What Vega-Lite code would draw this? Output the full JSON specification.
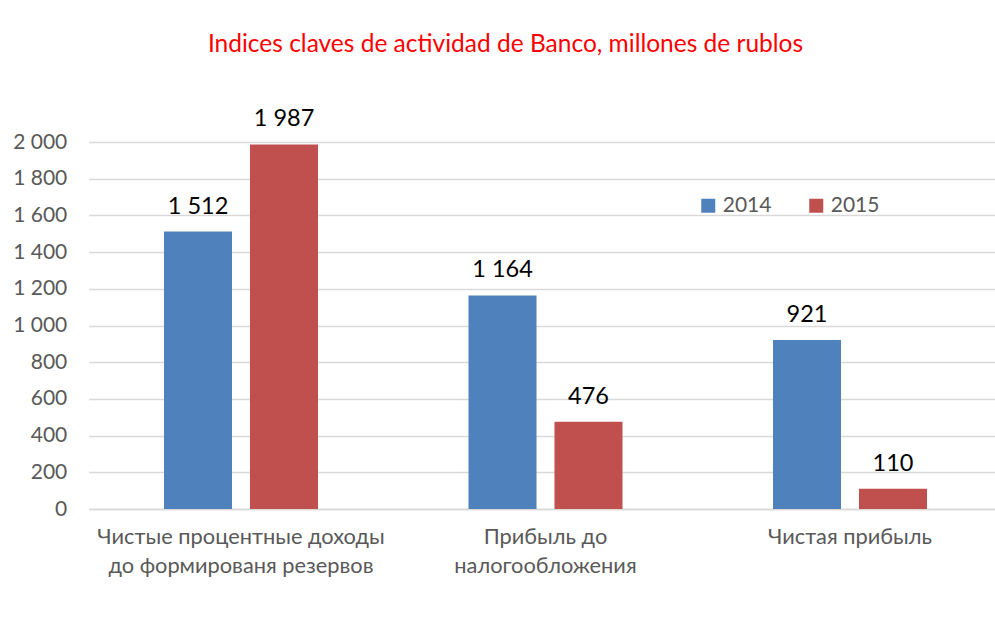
{
  "$schema": "https://vega.github.io/schema/vega-lite/v6.json",
  "width": 913.5,
  "height": 367,
  "autosize": {"type": "none"},
  "padding": {"left": 88.75, "top": 142, "right": 0, "bottom": 130},
  "background": "white",
  "title": {
    "text": "Indices claves de actividad de Banco, millones de rublos",
    "color": "#FF0000",
    "font": "Lato",
    "fontSize": 24.5,
    "fontWeight": "normal",
    "anchor": "middle",
    "dx": -40,
    "offset": 50
  },
  "data": {
    "values": [
      {"cat": "Чистые процентные доходы|до формированя резервов", "year": "2014", "value": 1512},
      {"cat": "Чистые процентные доходы|до формированя резервов", "year": "2015", "value": 1987},
      {"cat": "Прибыль до|налогообложения", "year": "2014", "value": 1164},
      {"cat": "Прибыль до|налогообложения", "year": "2015", "value": 476},
      {"cat": "Чистая прибыль", "year": "2014", "value": 921},
      {"cat": "Чистая прибыль", "year": "2015", "value": 110}
    ]
  },
  "encoding": {
    "x": {
      "field": "cat",
      "type": "nominal",
      "sort": null,
      "scale": {"paddingInner": 0, "paddingOuter": 0},
      "axis": {
        "title": null,
        "labelAngle": 0,
        "labelExpr": "split(datum.label, '|')",
        "labelFont": "Lato",
        "labelFontSize": 21.8,
        "labelColor": "#595959",
        "labelLineHeight": 29,
        "labelPadding": 17,
        "labelLimit": 400,
        "ticks": false,
        "domainColor": "#D9D9D9",
        "domainWidth": 1.5,
        "grid": false
      }
    },
    "xOffset": {
      "field": "year",
      "type": "nominal",
      "scale": {"paddingInner": 0.209, "paddingOuter": 0.875}
    },
    "y": {
      "field": "value",
      "type": "quantitative",
      "scale": {"domain": [0, 2000], "nice": false},
      "axis": {
        "title": null,
        "values": [0, 200, 400, 600, 800, 1000, 1200, 1400, 1600, 1800, 2000],
        "labelExpr": "replace(format(datum.value, ',d'), ',', ' ')",
        "labelFont": "Lato",
        "labelFontSize": 21,
        "labelColor": "#595959",
        "labelPadding": 22,
        "ticks": false,
        "domain": false,
        "grid": true,
        "gridColor": "#D9D9D9",
        "gridWidth": 1.5
      }
    }
  },
  "layer": [
    {
      "mark": {"type": "bar"},
      "encoding": {
        "color": {
          "field": "year",
          "type": "nominal",
          "scale": {"domain": ["2014", "2015"], "range": ["#4F81BD", "#C0504D"]},
          "legend": {
            "title": null,
            "orient": "none",
            "legendX": 609,
            "legendY": 53,
            "direction": "horizontal",
            "symbolType": "square",
            "symbolSize": 196,
            "symbolStrokeWidth": 0,
            "labelFont": "Lato",
            "labelFontSize": 21,
            "labelColor": "#595959",
            "labelOffset": 4,
            "columnPadding": 34,
            "padding": 0
          }
        }
      }
    },
    {
      "mark": {"type": "text", "baseline": "alphabetic", "dy": -18, "font": "Lato", "fontSize": 23.5, "color": "#000000"},
      "encoding": {
        "text": {"field": "value", "type": "quantitative", "format": ",d"}
      }
    }
  ],
  "config": {
    "locale": {"number": {"decimal": ",", "thousands": " ", "grouping": [3], "currency": ["", " ₽"]}},
    "view": {"stroke": null}
  }
}
